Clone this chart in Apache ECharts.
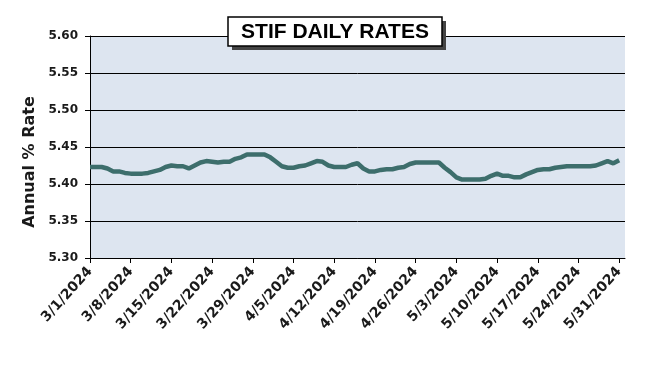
<!DOCTYPE html>
<html>
<head>
<meta charset="utf-8">
<script src="https://cdn.jsdelivr.net/npm/echarts@6/dist/echarts.min.js"></script>
<style>
html,body{margin:0;padding:0;background:#fff;}
#chart{width:650px;height:380px;}
</style>
</head>
<body>
<div id="chart"></div>
<script>
// Categories: daily dates 3/1/2024 .. 6/1/2024
const categories = [];
(function(){
  const d = new Date(2024, 2, 1);
  const end = new Date(2024, 5, 1);
  while (d <= end) {
    categories.push((d.getMonth()+1) + '/' + d.getDate() + '/' + d.getFullYear());
    d.setDate(d.getDate()+1);
  }
})();

// Daily STIF rate (%), 3/1/2024 .. 5/31/2024
const rates = [
  5.423, 5.423, 5.423, 5.421, 5.417, 5.417, 5.415, 5.414, 5.414, 5.414,
  5.415, 5.417, 5.419, 5.423, 5.425, 5.424, 5.424, 5.421, 5.425, 5.429,
  5.431, 5.430, 5.429, 5.430, 5.430, 5.434, 5.436, 5.440, 5.440, 5.440,
  5.440, 5.436, 5.430, 5.424, 5.422, 5.422, 5.424, 5.425, 5.428, 5.431,
  5.430, 5.425, 5.423, 5.423, 5.423, 5.426, 5.428, 5.421, 5.417, 5.417,
  5.419, 5.420, 5.420, 5.422, 5.423, 5.427, 5.429, 5.429, 5.429, 5.429,
  5.429, 5.422, 5.416, 5.409, 5.406, 5.406, 5.406, 5.406, 5.407, 5.411,
  5.414, 5.411, 5.411, 5.409, 5.409, 5.413, 5.416, 5.419, 5.420, 5.420,
  5.422, 5.423, 5.424, 5.424, 5.424, 5.424, 5.424, 5.425, 5.428, 5.431,
  5.428, 5.432
];

const yTicks = [5.30, 5.35, 5.40, 5.45, 5.50, 5.55, 5.60];
const titleText = 'STIF DAILY RATES';
const yAxisName = 'Annual % Rate';

const chart = echarts.init(document.getElementById('chart'), null, {renderer: 'canvas'});
chart.setOption({
  animation: false,
  backgroundColor: '#ffffff',
  grid: {left: 90, right: 25, top: 36, bottom: 122, show: true, backgroundColor: '#dde5f0', borderWidth: 0},
  xAxis: {
    type: 'category',
    data: categories,
    boundaryGap: false,
    axisLine: {show: true, lineStyle: {color: '#000', width: 1}},
    axisTick: {show: true, interval: 6, length: 5, lineStyle: {color: '#000'}},
    axisLabel: {interval: 6, rotate: 48, margin: 11, fontFamily: 'DejaVu Sans', fontWeight: 'bold', fontSize: 14, color: '#1a1a1a'},
    splitLine: {show: false}
  },
  yAxis: {
    type: 'value',
    min: yTicks[0],
    max: yTicks[yTicks.length-1],
    interval: 0.05,
    name: yAxisName,
    nameLocation: 'middle',
    nameGap: 52,
    nameTextStyle: {fontFamily: 'DejaVu Sans', fontWeight: 'bold', fontSize: 16, color: '#1a1a1a', padding: [0, 30, 0, 0]},
    axisLine: {show: true, lineStyle: {color: '#000', width: 1}},
    axisTick: {show: true, length: 5, lineStyle: {color: '#000'}},
    axisLabel: {margin: 12, formatter: v => v.toFixed(2), fontFamily: 'DejaVu Sans', fontWeight: 'bold', fontSize: 12, color: '#1a1a1a'},
    splitLine: {show: true, lineStyle: {color: '#000', width: 1}}
  },
  series: [{
    type: 'line',
    data: rates,
    showSymbol: false,
    smooth: false,
    lineStyle: {color: '#3d6e6c', width: 4.5},
    itemStyle: {color: '#3d6e6c'}
  }],
  graphic: [
    {type: 'rect', shape: {x: 232, y: 21, width: 214, height: 29}, style: {fill: '#444'}, z: 100},
    {type: 'rect', shape: {x: 228, y: 17, width: 214, height: 29}, style: {fill: '#fff', stroke: '#000', lineWidth: 1.5}, z: 101},
    {type: 'text', x: 335, y: 32, style: {text: titleText, fill: '#000', font: 'bold 21px "Liberation Sans", Arial, sans-serif', textAlign: 'center', textVerticalAlign: 'middle'}, z: 102}
  ]
});
</script>
</body>
</html>
